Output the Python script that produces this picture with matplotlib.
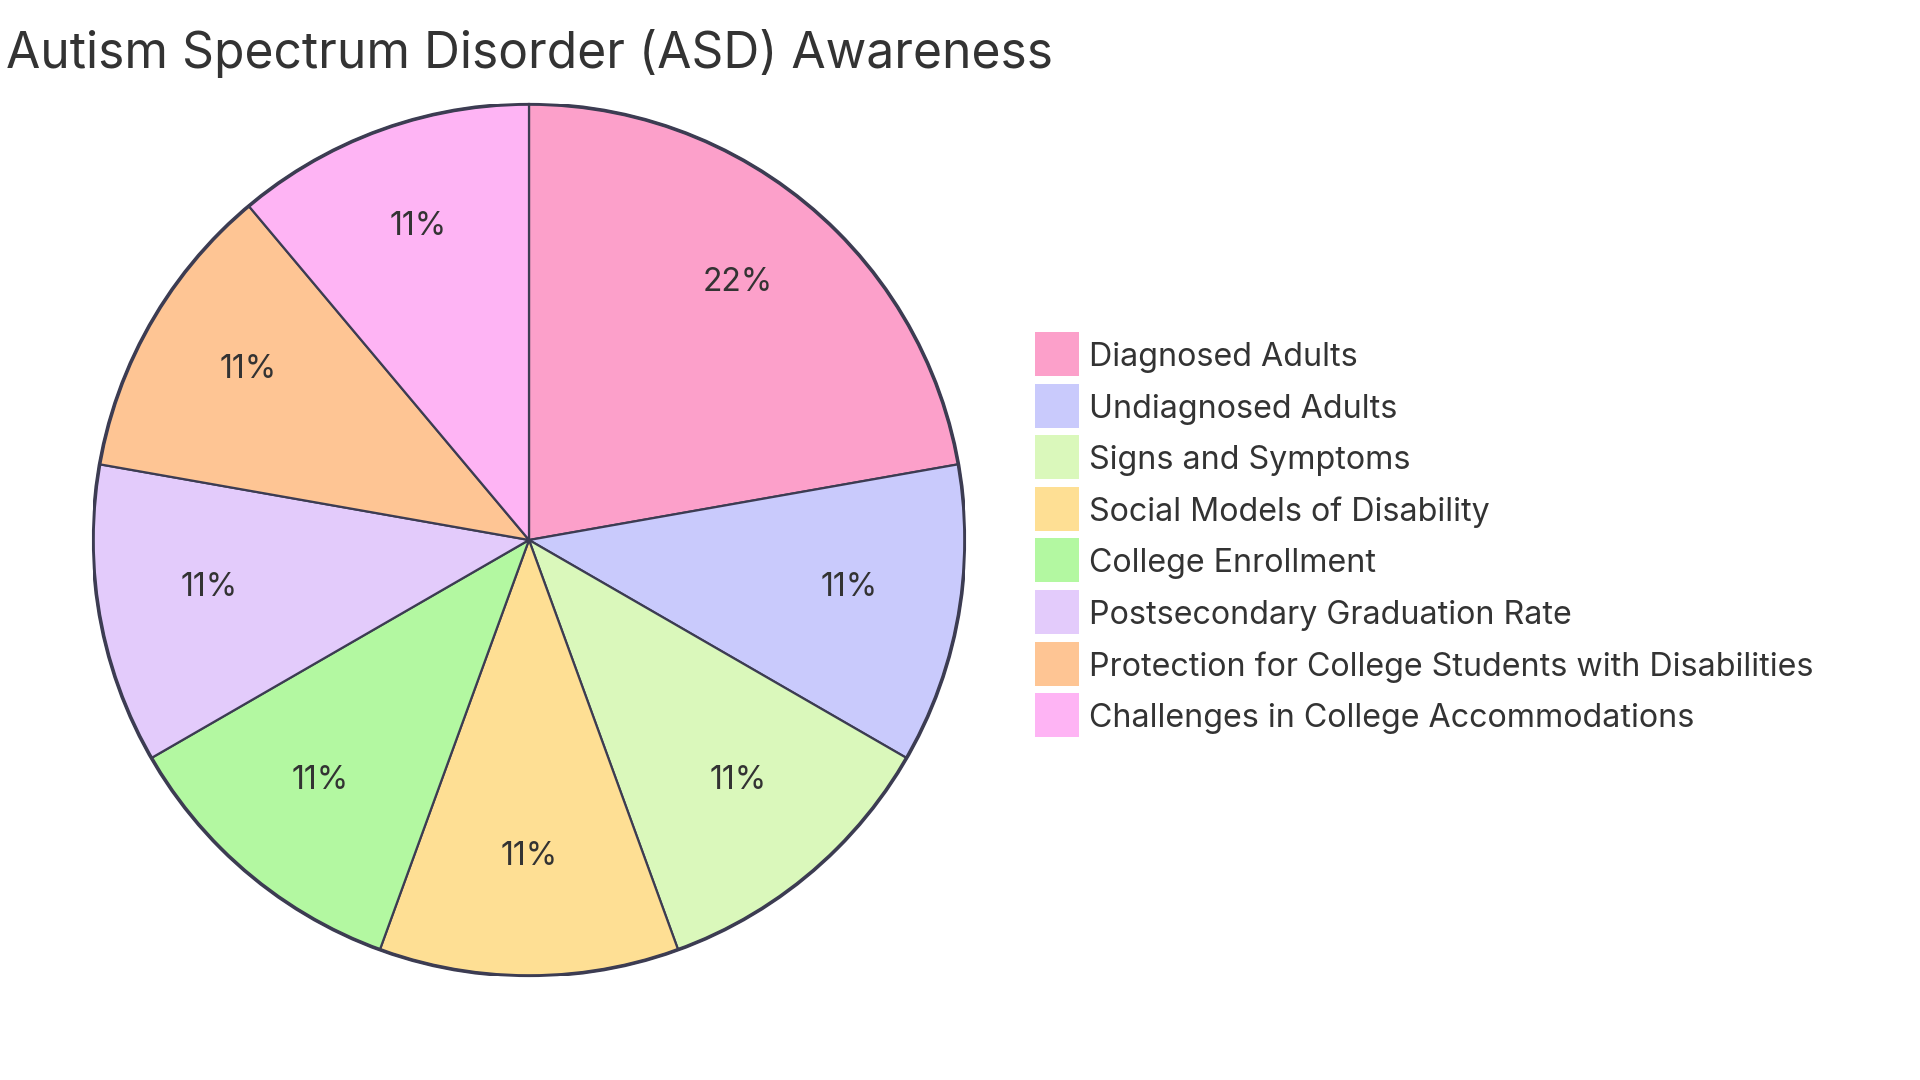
import matplotlib
matplotlib.use("Agg")
import matplotlib.pyplot as plt
from matplotlib.patches import Circle, Rectangle
import matplotlib.transforms as mtransforms

# =========================
# DATA
# =========================
title = "Autism Spectrum Disorder (ASD) Awareness"
labels = [
    "Diagnosed Adults",
    "Undiagnosed Adults",
    "Signs and Symptoms",
    "Social Models of Disability",
    "College Enrollment",
    "Postsecondary Graduation Rate",
    "Protection for College Students with Disabilities",
    "Challenges in College Accommodations",
]
values = [2, 1, 1, 1, 1, 1, 1, 1]
colors = [
    "#FCA0CA", "#C9CAFC", "#DAF8BB", "#FEDF94",
    "#B3F8A1", "#E3CBFB", "#FEC594", "#FEB4F4",
]

plt.rcParams["font.family"] = ["Inter", "DejaVu Sans"]
text_color = "#333333"
edge_color = "#3C3C52"

W, H = 1920, 1080

# =========================
# PIE
# =========================
fig = plt.figure(figsize=(19.2, 10.8), dpi=100)
cx, cy, r = 529, 540, 436
ax = fig.add_axes([(cx - r) / W, (H - cy - r) / H, 2 * r / W, 2 * r / H])

wedges, texts, autotexts = ax.pie(
    values,
    colors=colors,
    startangle=90,
    counterclock=False,
    autopct=lambda p: f"{p:.0f}%",
    pctdistance=0.745,
    radius=1,
    wedgeprops=dict(edgecolor=edge_color, linewidth=1.6),
    textprops=dict(color=text_color, fontsize=23),
)
# nudge the percentage labels up a little (font descent)
shift = mtransforms.ScaledTranslation(0, 8.5 / 100, fig.dpi_scale_trans)
for t in autotexts:
    t.set_transform(t.get_transform() + shift)

ax.add_patch(Circle((0, 0), 1, fill=False, edgecolor=edge_color, linewidth=2.6))
ax.set_xlim(-1, 1)
ax.set_ylim(-1, 1)
ax.set_aspect("equal")
ax.axis("off")

# =========================
# TITLE + LEGEND
# =========================
fig.text(6 / W, 1 - 54 / H, title, fontsize=35.8, color=text_color,
         ha="left", va="center")

box = 44
row0 = 354
pitch = 51.6
for i, (lab, c) in enumerate(zip(labels, colors)):
    yc = row0 + i * pitch
    fig.add_artist(Rectangle((1035 / W, 1 - (yc + box / 2) / H), box / W, box / H,
                             transform=fig.transFigure, facecolor=c,
                             edgecolor="none"))
    fig.text(1089 / W, 1 - (yc + 3.5) / H, lab, fontsize=23.2, color=text_color,
             ha="left", va="center")

plt.savefig("out.png", dpi=100, facecolor="white")
